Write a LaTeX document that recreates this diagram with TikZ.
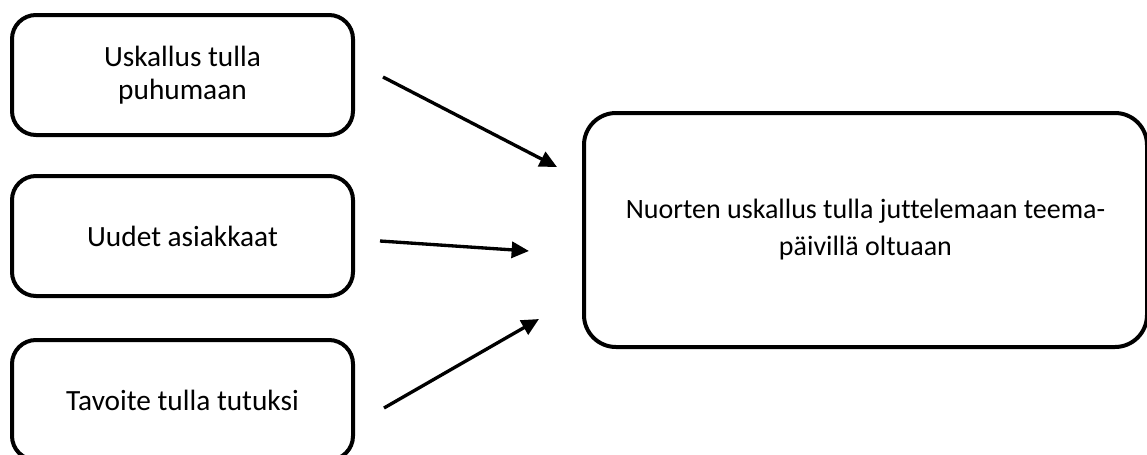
\documentclass[tikz,border=0pt]{standalone}
\usepackage{fontspec}
\setmainfont{Carlito}[Ligatures={NoCommon}]
\usetikzlibrary{arrows.meta}
\begin{document}
\begin{tikzpicture}[x=0.75pt,y=-0.75pt,
  smallbox/.style={draw, line width=3pt, rounded corners=18pt, minimum width=255.75pt, minimum height=90pt, align=center, font=\fontsize{22}{24.75}\selectfont, inner sep=0pt},
  bigbox/.style={draw, line width=3pt, rounded corners=24pt, minimum width=422.25pt, minimum height=175.5pt, align=center, font=\fontsize{21}{27.75}\selectfont, inner sep=0pt},
  arr/.style={line width=2.5pt, -{Triangle[length=13pt,width=12pt]}}]
\useasboundingbox (0,0) rectangle (1147,454);
\node[smallbox] (b1) at (182.5,75) {Uskallus tulla\\puhumaan};
\node[smallbox] (b2) at (182.5,236) {Uudet asiakkaat};
\node[smallbox] (b3) at (182.5,400) {Tavoite tulla tutuksi};
\node[bigbox] (goal) at (865.5,230) {\raisebox{-4pt}{\parbox{400pt}{\centering Nuorten uskallus tulla juttelemaan teema-\\päivillä oltuaan}}};
\coordinate (s1) at (383,77);
\coordinate (e1) at (557,167);
\coordinate (s2) at (380,241);
\coordinate (e2) at (529,251);
\coordinate (s3) at (384,408);
\coordinate (e3) at (539,319);
\draw[arr] (s1) -- (e1);
\draw[arr] (s2) -- (e2);
\draw[arr] (s3) -- (e3);
\end{tikzpicture}
\end{document}
